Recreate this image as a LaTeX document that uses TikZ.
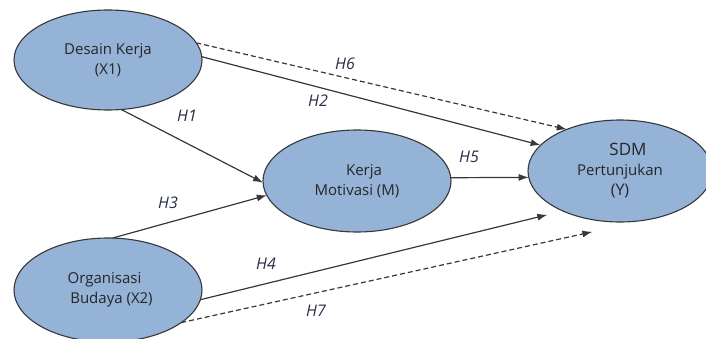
\documentclass[tikz,border=0pt]{standalone}
\usepackage{fontspec}
\setmainfont{Open Sans}
\usetikzlibrary{shapes.geometric,arrows.meta}
\definecolor{varfill}{RGB}{149,179,215}
\definecolor{varline}{RGB}{55,55,60}
\definecolor{hypcol}{RGB}{40,45,70}
\begin{document}
\begin{tikzpicture}[x=1pt,y=-1pt,
    var/.style={ellipse,draw=varline,line width=1.1pt,fill=varfill,inner sep=0pt,outer sep=0pt,
      align=center,text=black!85,font=\fontsize{15}{20}\selectfont},
    link/.style={draw=varline,line width=1.2pt,-{Latex[length=10pt,width=7pt]}},
    dlink/.style={link,dash pattern=on 5pt off 3pt},
    hyp/.style={font=\fontsize{16}{16}\selectfont\itshape,text=hypcol}]
      \path [use as bounding box,clip] (0,0) rectangle (706,339);
      % variables
      \node [var,minimum width=188pt,minimum height=100pt] (X1) at (108,60) {Desain Kerja\\(X1)};
      \node [var,minimum width=188pt,minimum height=102pt] (M) at (357,181) {\hspace*{14pt}Kerja\\Motivasi (M)};
      \node [var,minimum width=188pt,minimum height=104pt] (X2) at (108,290) {Organisasi\hspace*{7pt}\\\hspace*{7pt}Budaya (X2)};
      \node [var,minimum width=184pt,minimum height=102pt] (Y) at (620,171)
        {\hspace*{16pt}{\fontsize{17}{20}\selectfont SDM}\\Pertunjukan\\{\fontsize{16}{20}\selectfont (Y)}};
      % hypotheses
      \draw [link] (X1.-75) -- (M.181);
      \draw [link] (X1.2) -- (Y.162);
      \draw [dlink] (X1.11) -- (Y.142);
      \draw [link] (X2.85) -- (M.189);
      \draw [link] (M.2) -- (Y.184);
      \draw [link,shorten >=16pt] (X2.-6) -- (Y.215);
      \draw [dlink,shorten >=56pt] (X2.-24) -- (Y.-61);
      \node [hyp] (h1) at (187,116) {H1};
      \node [hyp] (h2) at (318,101) {H2};
      \node [hyp] (h3) at (168,203) {H3};
      \node [hyp] (h4) at (266,264) {H4};
      \node [hyp] (h5) at (469,157) {H5};
      \node [hyp] (h6) at (345,64) {H6};
      \node [hyp] (h7) at (316,311) {H7};
    \end{tikzpicture}
\end{document}
